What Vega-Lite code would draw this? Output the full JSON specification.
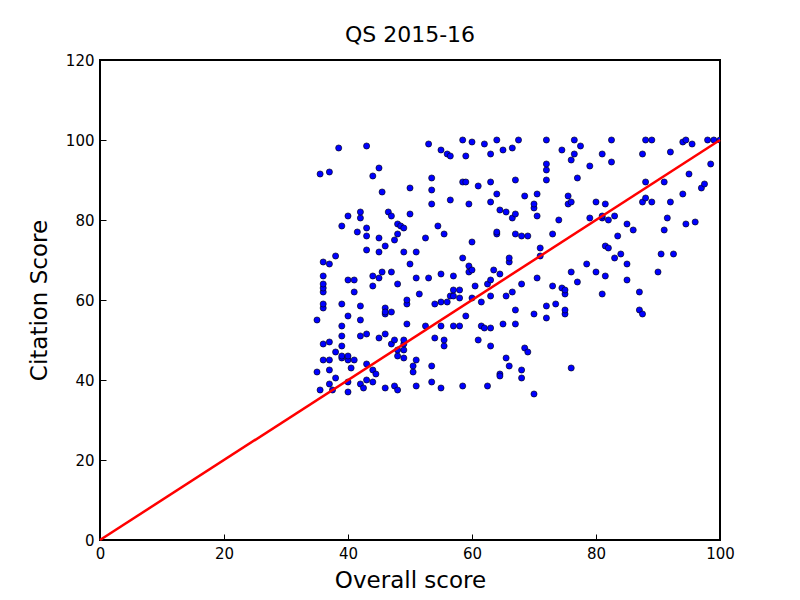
{
  "$schema": "https://vega.github.io/schema/vega-lite/v6.json",
  "autosize": "none",
  "padding": {"left": 100, "top": 60, "right": 80, "bottom": 60},
  "width": 620,
  "height": 480,
  "background": "white",
  "title": {"text": "QS 2015-16", "font": "DejaVu Sans", "fontSize": 22, "fontWeight": "normal", "color": "black", "offset": 6},
  "config": {
    "view": {"stroke": "black", "strokeWidth": 2},
    "axis": {"grid": false, "domain": false, "tickColor": "black", "tickSize": -6, "labelFlush": false, "labelOverlap": false, "labelFont": "DejaVu Sans", "labelFontSize": 15, "labelColor": "black", "labelPadding": 12, "titleFont": "DejaVu Sans", "titleFontSize": 23, "titleFontWeight": "normal", "titleColor": "black"}
  },
  "datasets": {
    "line": [{"x": 0, "y": 0}, {"x": 100, "y": 100}],
    "pts": [
{"x":35.5,"y":91.5},{"x":37,"y":92},{"x":38.5,"y":98},{"x":35,"y":55},{"x":35,"y":42},{"x":35.5,"y":37.5},{"x":36,"y":45},{"x":36,"y":49},{"x":36,"y":58},{"x":36,"y":59},{"x":36,"y":62},{"x":36,"y":63},{"x":36,"y":64},{"x":36,"y":66},{"x":36,"y":69.5},{"x":37,"y":69},{"x":37,"y":49.5},{"x":37,"y":45},{"x":37,"y":42.5},{"x":37,"y":39},{"x":37.5,"y":37.5},{"x":38,"y":47},{"x":38,"y":40.5},{"x":38,"y":71},{"x":39,"y":45.5},{"x":39,"y":46},{"x":39,"y":48.5},{"x":39,"y":51},{"x":39,"y":53.5},{"x":39,"y":59},{"x":39,"y":78.5},{"x":40,"y":37},{"x":40,"y":39.5},{"x":40,"y":45},{"x":40,"y":46},{"x":40,"y":56},{"x":40,"y":65},{"x":40,"y":81},{"x":40.5,"y":43},{"x":41,"y":45},{"x":41,"y":62},{"x":41,"y":65},{"x":41.5,"y":77},{"x":42,"y":51},{"x":42,"y":55},{"x":42,"y":58.5},{"x":42,"y":80.5},{"x":42,"y":82},{"x":42,"y":39},{"x":42.5,"y":38},{"x":43,"y":40},{"x":43,"y":44},{"x":43,"y":51.5},{"x":43,"y":72.5},{"x":43,"y":76},{"x":43,"y":78},{"x":43,"y":98.5},{"x":44,"y":39.5},{"x":44,"y":42.5},{"x":44,"y":63.5},{"x":44,"y":66},{"x":44,"y":91},{"x":44.5,"y":41.5},{"x":45,"y":50.5},{"x":45,"y":65.5},{"x":45,"y":72},{"x":45,"y":75.5},{"x":45,"y":93},{"x":45.5,"y":67},{"x":45.5,"y":87},{"x":46,"y":38},{"x":46,"y":51.5},{"x":46,"y":56.5},{"x":46,"y":58},{"x":46,"y":73.5},{"x":46,"y":57},{"x":46.5,"y":82},{"x":47,"y":49},{"x":47,"y":81},{"x":47,"y":57},{"x":47,"y":67},{"x":47.5,"y":38.5},{"x":47.5,"y":50},{"x":47.5,"y":75},{"x":48,"y":37.5},{"x":48,"y":46},{"x":48,"y":47.5},{"x":48,"y":64},{"x":48,"y":76.5},{"x":48,"y":79},{"x":48.5,"y":78.5},{"x":49,"y":47.5},{"x":49,"y":49},{"x":49,"y":50},{"x":49,"y":45.5},{"x":49,"y":72},{"x":49,"y":78},{"x":49.5,"y":54},{"x":49.5,"y":59},{"x":49.5,"y":60},{"x":50,"y":81.5},{"x":50,"y":88},{"x":50,"y":69},{"x":50.5,"y":42},{"x":50.5,"y":43.5},{"x":51,"y":38.5},{"x":51,"y":45},{"x":51,"y":65.5},{"x":51,"y":72},{"x":51.5,"y":61.5},{"x":52.5,"y":53.5},{"x":52.5,"y":75.5},{"x":53,"y":65.5},{"x":53,"y":99},{"x":53.5,"y":39.5},{"x":53.5,"y":43.5},{"x":53.5,"y":84},{"x":53.5,"y":87.5},{"x":53.5,"y":90.5},{"x":54,"y":59},{"x":54,"y":50.5},{"x":54.5,"y":78.5},{"x":55,"y":38},{"x":55,"y":53.5},{"x":55,"y":59.5},{"x":55,"y":66.5},{"x":55,"y":97.5},{"x":55.5,"y":48.5},{"x":55.5,"y":50},{"x":55.5,"y":76.5},{"x":56,"y":59.5},{"x":56,"y":96.5},{"x":56.5,"y":61},{"x":56.5,"y":85},{"x":56.5,"y":96},{"x":57,"y":53.5},{"x":57,"y":61},{"x":57,"y":62.5},{"x":57,"y":66},{"x":58,"y":53.5},{"x":58,"y":62.5},{"x":58,"y":60.5},{"x":58.5,"y":38.5},{"x":58.5,"y":70.5},{"x":58.5,"y":89.5},{"x":58.5,"y":100},{"x":59,"y":56},{"x":59,"y":89.5},{"x":59,"y":96},{"x":59.5,"y":67},{"x":59.5,"y":68.5},{"x":59.5,"y":84},{"x":60,"y":74.5},{"x":60,"y":60.5},{"x":60,"y":99.5},{"x":60,"y":67.5},{"x":60.5,"y":63.5},{"x":61,"y":50},{"x":61,"y":88.5},{"x":61.5,"y":53.5},{"x":61.5,"y":59.5},{"x":62,"y":53},{"x":62,"y":99},{"x":62.5,"y":38.5},{"x":62.5,"y":64},{"x":63,"y":48.5},{"x":63,"y":53},{"x":63,"y":61},{"x":63,"y":65},{"x":63,"y":84.5},{"x":63,"y":89.5},{"x":63,"y":96.5},{"x":63.5,"y":67.5},{"x":64,"y":76.5},{"x":64,"y":77},{"x":64,"y":100},{"x":64,"y":86.5},{"x":64.5,"y":41.5},{"x":64.5,"y":41},{"x":64.5,"y":82.5},{"x":64.5,"y":66.5},{"x":65,"y":54},{"x":65,"y":97.5},{"x":65.5,"y":61},{"x":65.5,"y":82},{"x":65.5,"y":45.5},{"x":66,"y":43.5},{"x":66,"y":69.5},{"x":66,"y":70.5},{"x":66.5,"y":62},{"x":66.5,"y":80.5},{"x":66.5,"y":98},{"x":67,"y":54},{"x":67,"y":57.5},{"x":67,"y":76.5},{"x":67,"y":81.5},{"x":67,"y":90},{"x":67.5,"y":100},{"x":68,"y":40.5},{"x":68,"y":42.5},{"x":68,"y":64},{"x":68,"y":76},{"x":68.5,"y":48},{"x":68.5,"y":86},{"x":69,"y":47},{"x":69,"y":76},{"x":70,"y":36.5},{"x":70,"y":56.5},{"x":70,"y":83},{"x":70,"y":84},{"x":70.5,"y":65.5},{"x":70.5,"y":81},{"x":70.5,"y":86.5},{"x":71,"y":71},{"x":71,"y":73},{"x":72,"y":55.5},{"x":72,"y":58.5},{"x":72,"y":90},{"x":72,"y":92.5},{"x":72,"y":94},{"x":72,"y":100},{"x":73,"y":63.5},{"x":73,"y":76.5},{"x":73.5,"y":59},{"x":74,"y":80},{"x":74.5,"y":63},{"x":74.5,"y":97.5},{"x":75,"y":56.5},{"x":75,"y":57.5},{"x":75,"y":61.5},{"x":75,"y":62.5},{"x":75.5,"y":84},{"x":75.5,"y":86},{"x":76,"y":43},{"x":76,"y":67},{"x":76,"y":84.5},{"x":76,"y":95},{"x":76.5,"y":96.5},{"x":76.5,"y":100},{"x":77,"y":64.5},{"x":77,"y":90.5},{"x":77.5,"y":98.5},{"x":78.5,"y":69},{"x":79,"y":80.5},{"x":79,"y":93.5},{"x":80,"y":67},{"x":80,"y":84.5},{"x":81,"y":61.5},{"x":81,"y":80.5},{"x":81,"y":81},{"x":81,"y":96.5},{"x":81.5,"y":66},{"x":81.5,"y":73.5},{"x":81.5,"y":84},{"x":82,"y":73},{"x":82,"y":80},{"x":82.5,"y":94.5},{"x":82.5,"y":100},{"x":83,"y":81},{"x":83,"y":70.5},{"x":83.5,"y":76},{"x":84,"y":71.5},{"x":85,"y":65},{"x":85,"y":69},{"x":85,"y":79},{"x":86,"y":77.5},{"x":87,"y":62},{"x":87,"y":57.5},{"x":87.5,"y":56.5},{"x":87.5,"y":96.5},{"x":87.5,"y":84.5},{"x":88,"y":85.5},{"x":88,"y":89.5},{"x":88,"y":100},{"x":89,"y":84.5},{"x":89,"y":100},{"x":90,"y":67},{"x":90.5,"y":71.5},{"x":91,"y":77.5},{"x":91,"y":89.5},{"x":91.5,"y":80.5},{"x":92,"y":97},{"x":92,"y":84.5},{"x":92.5,"y":71.5},{"x":94,"y":86.5},{"x":94,"y":99.5},{"x":94.5,"y":100},{"x":94.5,"y":79},{"x":95,"y":91.5},{"x":95.5,"y":99},{"x":96,"y":79.5},{"x":97,"y":88},{"x":97.5,"y":89},{"x":98,"y":100},{"x":98.5,"y":94},{"x":99,"y":100},{"x":100,"y":100}
    ]
  },
  "layer": [
    {
      "data": {"name": "pts"},
      "mark": {"type": "point", "filled": true, "fill": "#0000ff", "stroke": "black", "strokeWidth": 0.6, "opacity": 1, "size": 38, "clip": true},
      "encoding": {
        "x": {"field": "x", "type": "quantitative", "scale": {"domain": [0, 100], "nice": false}, "axis": {"title": "Overall score", "values": [0, 20, 40, 60, 80, 100], "titlePadding": 8}},
        "y": {"field": "y", "type": "quantitative", "scale": {"domain": [0, 120], "nice": false}, "axis": {"title": "Citation Score", "values": [0, 20, 40, 60, 80, 100, 120], "titlePadding": 14}}
      }
    },
    {
      "data": {"name": "line"},
      "mark": {"type": "line", "color": "red", "strokeWidth": 2.5},
      "encoding": {
        "x": {"field": "x", "type": "quantitative"},
        "y": {"field": "y", "type": "quantitative"}
      }
    }
  ]
}
